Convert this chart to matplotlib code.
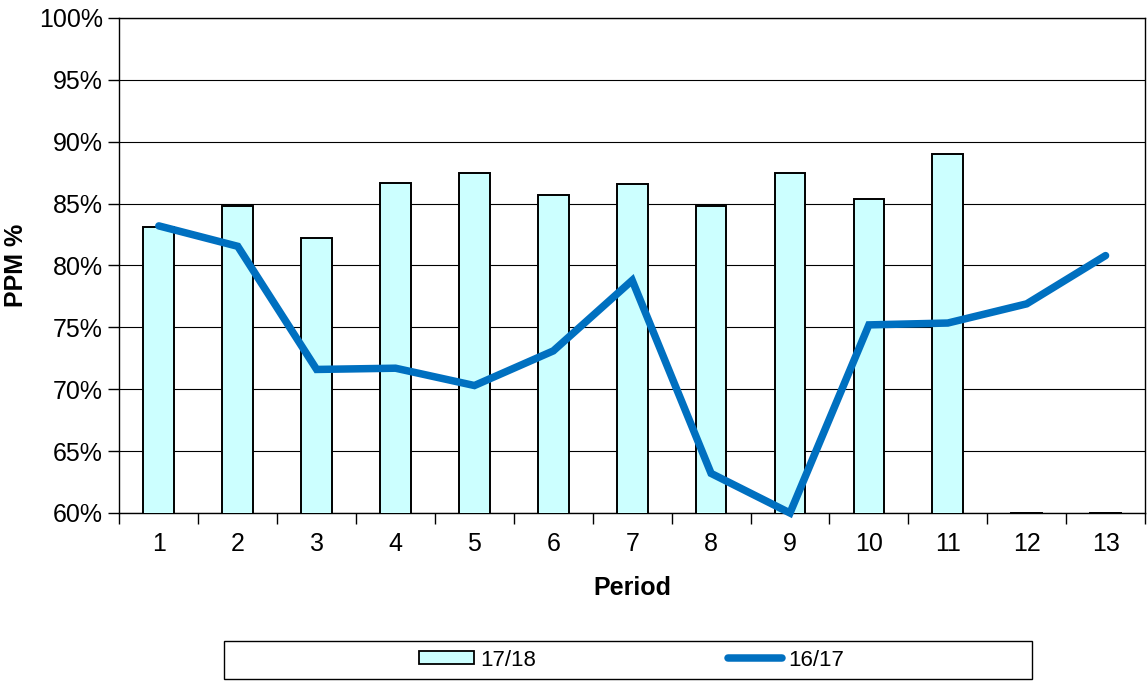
import numpy as np
import matplotlib.pyplot as plt
from matplotlib.patches import Rectangle, Patch
from matplotlib.lines import Line2D
from matplotlib.ticker import FixedLocator, PercentFormatter

plt.rcParams['font.family'] = ['Liberation Sans', 'DejaVu Sans']

# datos
periods = list(range(1, 14))
ppm_1718 = [83.1, 84.8, 82.2, 86.7, 87.5, 85.7, 86.6, 84.8, 87.5, 85.4, 89.0, 0, 0]
ppm_1617 = [83.2, 81.55, 71.6, 71.7, 70.3, 73.1, 78.8, 63.2, 60.0, 75.2, 75.35, 76.9, 80.8]
y_ticks = [60, 65, 70, 75, 80, 85, 90, 95, 100]

fig = plt.figure(figsize=(11.48, 6.81), dpi=100)
ax = fig.add_axes([0.104, 0.2467, 0.8934, 0.7269])

# barras (las que quedan por debajo de 60% se aplastan contra el eje, como en Excel)
bar_h = np.clip(ppm_1718, 60, None)
ax.bar(periods, bar_h, width=0.39, color='#CCFFFF', edgecolor='black',
       linewidth=1.4, zorder=3)
ax.plot(periods, ppm_1617, color='#0070C0', linewidth=5.4, solid_capstyle='round',
        solid_joinstyle='miter', zorder=4, clip_on=False)

ax.set_xlim(0.5, 13.5)
ax.set_ylim(60, 100)
ax.set_yticks(y_ticks)
ax.yaxis.set_major_formatter(PercentFormatter(decimals=0))
ax.set_xticks(periods)
ax.xaxis.set_minor_locator(FixedLocator(np.arange(0.5, 14, 1)))
ax.tick_params(axis='x', which='major', length=0, labelsize=18, pad=14)
ax.tick_params(axis='x', which='minor', length=8, width=1, direction='out')
ax.tick_params(axis='y', length=8, width=1, direction='out', labelsize=18, pad=4)

ax.grid(axis='y', color='black', linewidth=0.8, zorder=0)
ax.set_axisbelow(True)
for s in ax.spines.values():
    s.set_linewidth(1)
    s.set_color('black')

ax.set_xlabel('Period', fontsize=18, fontweight='bold', labelpad=14)
ax.set_ylabel('PPM %', fontsize=18, fontweight='bold', labelpad=8)

# leyenda con marco ancho dibujado a mano
fig.patches.append(Rectangle((224 / 1148, 1 - 679 / 681), (1032 - 224) / 1148, 38 / 681,
                             transform=fig.transFigure, facecolor='white',
                             edgecolor='black', linewidth=1))
handles = [Patch(facecolor='#CCFFFF', edgecolor='black', linewidth=1.3),
           Line2D([0], [0], color='#0070C0', linewidth=5.4, solid_capstyle='round')]
fig.legend(handles, ['17/18', '16/17'], loc='center', ncol=2,
           bbox_to_anchor=(632 / 1148, 1 - 660 / 681), frameon=False,
           fontsize=16, handlelength=2.45, handleheight=0.5, handletextpad=0.3,
           columnspacing=8.6)

fig.savefig('out.png', dpi=100)
